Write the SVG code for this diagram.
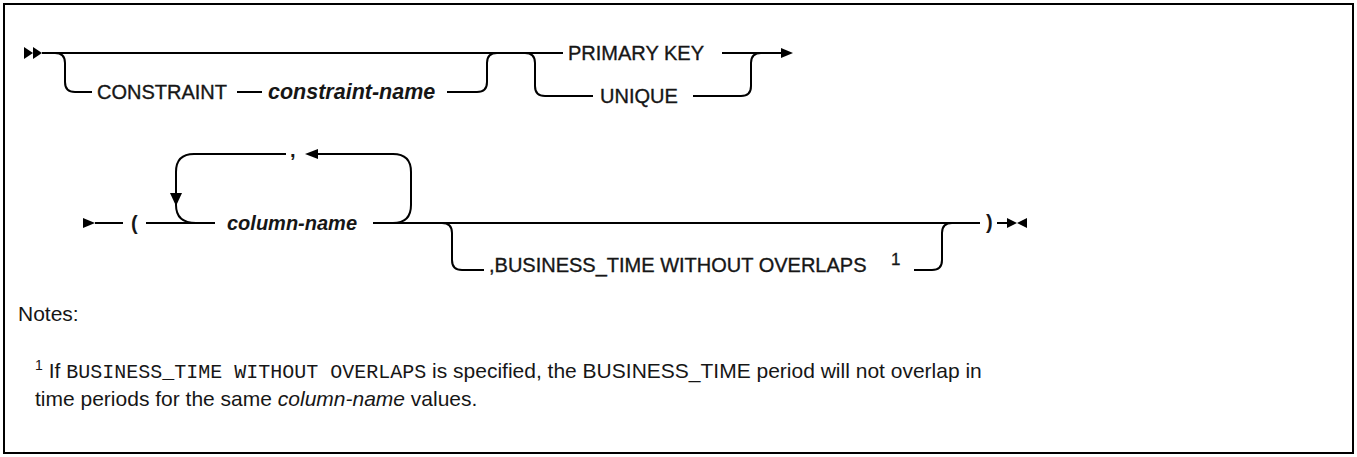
<svg xmlns="http://www.w3.org/2000/svg" width="1357" height="457" viewBox="0 0 1357 457">
<style>
.ln{fill:none;stroke:#000;stroke-width:2}
.ah{fill:#000}
.kw{font-family:"Liberation Sans",Arial,sans-serif;font-size:20px;fill:#161616;stroke:#161616;stroke-width:0.35;dominant-baseline:central}
.pk{font-family:"Liberation Sans",Arial,sans-serif;font-size:20px;font-weight:bold;fill:#161616;dominant-baseline:central}
.var{font-family:"Liberation Sans",Arial,sans-serif;font-size:20px;font-style:italic;font-weight:bold;fill:#161616;dominant-baseline:central}
.sup{font-family:"Liberation Sans",Arial,sans-serif;font-size:17px;fill:#161616;stroke:#161616;stroke-width:0.3}
.note{font-family:"Liberation Sans",Arial,sans-serif;font-size:21px;fill:#161616}
.mono{font-family:"Liberation Mono","DejaVu Sans Mono",monospace;font-size:20px}
</style>
<rect x="4" y="4" width="1349" height="449" fill="#fff" stroke="#000" stroke-width="2"/>
<g id="connectors">
<polygon class="ah" points="24,47 33,53 24,59"/>
<polygon class="ah" points="33,47 42,53 33,59"/>
<path class="ln" d="M42,53 H563"/>
<path class="ln" d="M55,53 Q65,53 65,63 V82 Q65,92 75,92 H92"/>
<path class="ln" d="M237,92 H262"/>
<path class="ln" d="M447,92 H477 Q487,92 487,82 V63 Q487,53 497,53"/>
<path class="ln" d="M525,53 Q535,53 535,63 V86 Q535,96 545,96 H593"/>
<path class="ln" d="M693,96 H741 Q751,96 751,86 V63 Q751,53 761,53"/>
<path class="ln" d="M722,53 H782"/>
<polygon class="ah" points="781,48 793,53 781,58"/>
<polygon class="ah" points="83,218 95,223 83,228"/>
<path class="ln" d="M95,223 H123"/>
<path class="ln" d="M146,223 H215"/>
<path class="ln" d="M196,223 Q176,223 176,205 V172 Q176,154 194,154 H286"/>
<polygon class="ah" points="170,193 182,193 176,206"/>
<path class="ln" d="M316,154 H393 Q411,154 411,172 V205 Q411,223 393,223"/>
<polygon class="ah" points="305,154 318,149 318,159"/>
<path class="ln" d="M373,223 H980"/>
<path class="ln" d="M442,223 Q452,223 452,233 V260 Q452,270 462,270 H484"/>
<path class="ln" d="M914,270 H932 Q942,270 942,260 V233 Q942,223 952,223"/>
<path class="ln" d="M997,223 H1008"/>
<polygon class="ah" points="1007,218 1017,223 1007,228"/>
<polygon class="ah" points="1027,218 1017,223 1027,228"/>
</g>
<g id="n-constraint"><text class="kw" x="97" y="92">CONSTRAINT</text></g>
<g id="n-constraint-name"><text class="var" x="268" y="92" style="font-size:21.5px">constraint-name</text></g>
<g id="n-primary-key"><text class="kw" x="568" y="53">PRIMARY KEY</text></g>
<g id="n-unique"><text class="kw" x="600" y="96">UNIQUE</text></g>
<g id="n-lparen"><text class="pk" x="131" y="223">(</text></g>
<g id="n-comma"><text class="pk" x="290" y="150">,</text></g>
<g id="n-column-name"><text class="var" x="227" y="223">column-name</text></g>
<g id="n-business"><text class="kw" x="489" y="265">,BUSINESS_TIME WITHOUT OVERLAPS</text><text class="sup" x="891" y="265">1</text></g>
<g id="n-rparen"><text class="pk" x="986" y="222">)</text></g>
<g id="notes">
<text class="note" x="18" y="321">Notes:</text>
<text class="note" x="35" y="378"><tspan font-size="14" dy="-8">1</tspan><tspan dy="8"> If </tspan><tspan class="mono">BUSINESS_TIME  WITHOUT  OVERLAPS</tspan> is specified, the BUSINESS_TIME period will not overlap in</text>
<text class="note" x="35" y="406">time periods for the same <tspan font-style="italic">column-name</tspan> values.</text>
</g>
</svg>
